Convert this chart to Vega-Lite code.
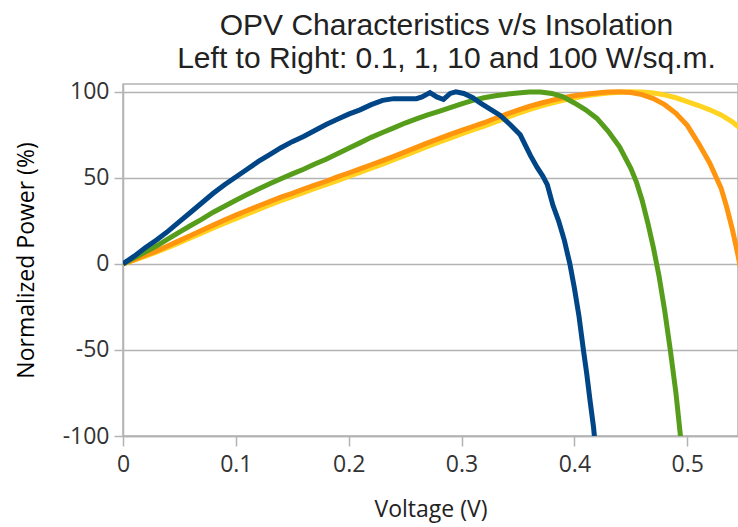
{
  "$schema": "https://vega.github.io/schema/vega-lite/v6.json",
  "width": 615,
  "height": 352,
  "autosize": {"type": "none"},
  "padding": {"left": 123, "top": 84, "right": 0, "bottom": 91},
  "background": "white",
  "title": {
    "text": ["OPV Characteristics v/s Insolation", "Left to Right: 0.1, 1, 10 and 100 W/sq.m."],
    "font": "Liberation Sans",
    "fontSize": 30,
    "fontWeight": "normal",
    "color": "#222222",
    "anchor": "middle",
    "dx": 16,
    "offset": 7,
    "lineHeight": 33
  },
  "config": {
    "view": {"stroke": "#b3b3b3", "strokeWidth": 1.5}
  },
  "datasets": {
    "yellow": [
      {"v": 0, "p": 0}, {"v": 0.01, "p": 2.2}, {"v": 0.02, "p": 4.5}, {"v": 0.03, "p": 7}, {"v": 0.04, "p": 9.5},
      {"v": 0.05, "p": 12.3}, {"v": 0.06, "p": 15.2}, {"v": 0.07, "p": 18}, {"v": 0.08, "p": 20.8}, {"v": 0.09, "p": 23.6},
      {"v": 0.1, "p": 26.3}, {"v": 0.11, "p": 29}, {"v": 0.12, "p": 31.6}, {"v": 0.13, "p": 34.2}, {"v": 0.14, "p": 36.7},
      {"v": 0.15, "p": 39}, {"v": 0.16, "p": 41.4}, {"v": 0.17, "p": 43.8}, {"v": 0.18, "p": 46}, {"v": 0.19, "p": 48.4},
      {"v": 0.2, "p": 50.8}, {"v": 0.21, "p": 53.2}, {"v": 0.22, "p": 55.6}, {"v": 0.23, "p": 58}, {"v": 0.24, "p": 60.5},
      {"v": 0.25, "p": 63}, {"v": 0.26, "p": 65.6}, {"v": 0.27, "p": 68.2}, {"v": 0.28, "p": 70.7}, {"v": 0.29, "p": 73.1},
      {"v": 0.3, "p": 75.5}, {"v": 0.31, "p": 77.8}, {"v": 0.32, "p": 80}, {"v": 0.33, "p": 82.5}, {"v": 0.34, "p": 85},
      {"v": 0.35, "p": 87.4}, {"v": 0.36, "p": 89.6}, {"v": 0.37, "p": 91.6}, {"v": 0.38, "p": 93.4}, {"v": 0.39, "p": 95},
      {"v": 0.4, "p": 96.4}, {"v": 0.41, "p": 97.6}, {"v": 0.42, "p": 98.5}, {"v": 0.43, "p": 99.2}, {"v": 0.44, "p": 99.7},
      {"v": 0.45, "p": 100}, {"v": 0.46, "p": 99.9}, {"v": 0.47, "p": 99.3}, {"v": 0.48, "p": 98.2}, {"v": 0.49, "p": 96.5},
      {"v": 0.5, "p": 94.3}, {"v": 0.51, "p": 92}, {"v": 0.52, "p": 89.5}, {"v": 0.53, "p": 86.5}, {"v": 0.54, "p": 82.5},
      {"v": 0.55, "p": 77}
    ],
    "orange": [
      {"v": 0, "p": 0}, {"v": 0.01, "p": 2.5}, {"v": 0.02, "p": 5}, {"v": 0.03, "p": 7.5}, {"v": 0.04, "p": 10.5},
      {"v": 0.05, "p": 13.5}, {"v": 0.06, "p": 16.5}, {"v": 0.07, "p": 19.5}, {"v": 0.08, "p": 22.5}, {"v": 0.09, "p": 25.5},
      {"v": 0.1, "p": 28.3}, {"v": 0.11, "p": 31}, {"v": 0.12, "p": 33.6}, {"v": 0.13, "p": 36.2}, {"v": 0.14, "p": 38.8},
      {"v": 0.15, "p": 41}, {"v": 0.16, "p": 43.4}, {"v": 0.17, "p": 45.8}, {"v": 0.18, "p": 48}, {"v": 0.19, "p": 50.5},
      {"v": 0.2, "p": 52.8}, {"v": 0.21, "p": 55.2}, {"v": 0.22, "p": 57.6}, {"v": 0.23, "p": 60}, {"v": 0.24, "p": 62.5},
      {"v": 0.25, "p": 65.1}, {"v": 0.26, "p": 67.7}, {"v": 0.27, "p": 70.3}, {"v": 0.28, "p": 72.8}, {"v": 0.29, "p": 75.2},
      {"v": 0.3, "p": 77.5}, {"v": 0.31, "p": 79.8}, {"v": 0.32, "p": 82}, {"v": 0.33, "p": 84.6}, {"v": 0.34, "p": 87},
      {"v": 0.35, "p": 89.3}, {"v": 0.36, "p": 91.5}, {"v": 0.37, "p": 93.3}, {"v": 0.38, "p": 95}, {"v": 0.39, "p": 96.5},
      {"v": 0.4, "p": 97.7}, {"v": 0.41, "p": 98.6}, {"v": 0.42, "p": 99.3}, {"v": 0.43, "p": 99.8}, {"v": 0.44, "p": 100},
      {"v": 0.45, "p": 99.6}, {"v": 0.46, "p": 98.3}, {"v": 0.47, "p": 96}, {"v": 0.48, "p": 92.5}, {"v": 0.49, "p": 87.5},
      {"v": 0.5, "p": 80.5}, {"v": 0.51, "p": 70}, {"v": 0.52, "p": 58.5}, {"v": 0.53, "p": 44}, {"v": 0.535, "p": 33},
      {"v": 0.54, "p": 20}, {"v": 0.545, "p": 5}, {"v": 0.55, "p": -12}
    ],
    "green": [
      {"v": 0, "p": 0}, {"v": 0.01, "p": 3.5}, {"v": 0.02, "p": 7}, {"v": 0.03, "p": 10.5}, {"v": 0.04, "p": 14.5},
      {"v": 0.05, "p": 18.5}, {"v": 0.06, "p": 22.3}, {"v": 0.07, "p": 26}, {"v": 0.08, "p": 30}, {"v": 0.09, "p": 33.5},
      {"v": 0.1, "p": 37}, {"v": 0.11, "p": 40.3}, {"v": 0.12, "p": 43.5}, {"v": 0.13, "p": 46.5}, {"v": 0.14, "p": 49.5},
      {"v": 0.15, "p": 52.3}, {"v": 0.16, "p": 55}, {"v": 0.17, "p": 58}, {"v": 0.18, "p": 60.8}, {"v": 0.19, "p": 64},
      {"v": 0.2, "p": 67.2}, {"v": 0.21, "p": 70.3}, {"v": 0.22, "p": 73.5}, {"v": 0.23, "p": 76.3}, {"v": 0.24, "p": 79},
      {"v": 0.25, "p": 81.8}, {"v": 0.26, "p": 84.2}, {"v": 0.27, "p": 86.5}, {"v": 0.28, "p": 88.6}, {"v": 0.29, "p": 90.8},
      {"v": 0.3, "p": 93}, {"v": 0.31, "p": 95}, {"v": 0.32, "p": 96.5}, {"v": 0.33, "p": 97.7}, {"v": 0.34, "p": 98.6},
      {"v": 0.35, "p": 99.3}, {"v": 0.36, "p": 99.8}, {"v": 0.37, "p": 99.8}, {"v": 0.38, "p": 99}, {"v": 0.39, "p": 97},
      {"v": 0.4, "p": 93.5}, {"v": 0.41, "p": 89.5}, {"v": 0.42, "p": 84.5}, {"v": 0.43, "p": 77}, {"v": 0.44, "p": 68},
      {"v": 0.45, "p": 55.5}, {"v": 0.455, "p": 47.5}, {"v": 0.46, "p": 37}, {"v": 0.465, "p": 24}, {"v": 0.47, "p": 9.5},
      {"v": 0.475, "p": -7}, {"v": 0.48, "p": -27}, {"v": 0.485, "p": -50}, {"v": 0.49, "p": -75}, {"v": 0.494, "p": -100},
      {"v": 0.495, "p": -106}
    ],
    "blue": [
      {"v": 0, "p": 0}, {"v": 0.01, "p": 4.5}, {"v": 0.02, "p": 9.5}, {"v": 0.03, "p": 14}, {"v": 0.04, "p": 19},
      {"v": 0.05, "p": 24.5}, {"v": 0.06, "p": 30}, {"v": 0.07, "p": 35.5}, {"v": 0.08, "p": 41}, {"v": 0.09, "p": 46},
      {"v": 0.1, "p": 50.5}, {"v": 0.11, "p": 55}, {"v": 0.12, "p": 59.5}, {"v": 0.13, "p": 63.5}, {"v": 0.14, "p": 67.5},
      {"v": 0.15, "p": 71}, {"v": 0.16, "p": 74}, {"v": 0.17, "p": 77.5}, {"v": 0.18, "p": 81}, {"v": 0.19, "p": 84},
      {"v": 0.2, "p": 87}, {"v": 0.21, "p": 89.5}, {"v": 0.22, "p": 92.5}, {"v": 0.23, "p": 95}, {"v": 0.24, "p": 96},
      {"v": 0.25, "p": 96}, {"v": 0.26, "p": 96}, {"v": 0.265, "p": 97}, {"v": 0.272, "p": 99.5}, {"v": 0.278, "p": 97},
      {"v": 0.284, "p": 95.5}, {"v": 0.29, "p": 99}, {"v": 0.295, "p": 100}, {"v": 0.302, "p": 99}, {"v": 0.31, "p": 96.5},
      {"v": 0.3165, "p": 93.5}, {"v": 0.325, "p": 90}, {"v": 0.334, "p": 86.4}, {"v": 0.343, "p": 81}, {"v": 0.352, "p": 75},
      {"v": 0.361, "p": 63}, {"v": 0.367, "p": 56}, {"v": 0.372, "p": 51}, {"v": 0.376, "p": 46}, {"v": 0.381, "p": 34},
      {"v": 0.386, "p": 25}, {"v": 0.391, "p": 14}, {"v": 0.396, "p": 0}, {"v": 0.4, "p": -14}, {"v": 0.404, "p": -30},
      {"v": 0.408, "p": -50}, {"v": 0.411, "p": -64}, {"v": 0.414, "p": -80}, {"v": 0.417, "p": -95}, {"v": 0.418, "p": -102}
    ]
  },
  "encoding": {
    "x": {
      "field": "v",
      "type": "quantitative",
      "scale": {"domain": [0, 0.545], "nice": false, "zero": false},
      "axis": {
        "title": "Voltage (V)",
        "values": [0, 0.1, 0.2, 0.3, 0.4, 0.5],
        "format": ".1~f",
        "grid": false,
        "domainColor": "#b3b3b3",
        "domainWidth": 1.5,
        "tickColor": "#b3b3b3",
        "tickWidth": 1.5,
        "tickSize": 10,
        "labelFont": "Open Sans",
        "labelFontSize": 23,
        "labelColor": "#333333",
        "labelPadding": 7,
        "labelFlush": false,
        "titleFont": "Open Sans",
        "titleFontSize": 23,
        "titleFontWeight": "normal",
        "titleColor": "#222222",
        "titlePadding": 22
      }
    },
    "y": {
      "field": "p",
      "type": "quantitative",
      "scale": {"domain": [-100, 104.5], "nice": false, "zero": false},
      "axis": {
        "title": "Normalized Power (%)",
        "values": [-100, -50, 0, 50, 100],
        "labelExpr": "datum.value + ''",
        "grid": true,
        "gridColor": "#b3b3b3",
        "gridWidth": 1.5,
        "domainColor": "#b3b3b3",
        "domainWidth": 1.5,
        "tickColor": "#b3b3b3",
        "tickWidth": 1.5,
        "tickSize": 9,
        "labelFont": "Open Sans",
        "labelFontSize": 23,
        "labelColor": "#333333",
        "labelPadding": 5,
        "labelFlush": false,
        "titleFont": "Open Sans",
        "titleFontSize": 23,
        "titleFontWeight": "normal",
        "titleColor": "#000000",
        "titlePadding": 24
      }
    }
  },
  "layer": [
    {"data": {"name": "yellow"}, "mark": {"type": "line", "color": "#ffd320", "strokeWidth": 5, "clip": true}},
    {"data": {"name": "orange"}, "mark": {"type": "line", "color": "#ff950e", "strokeWidth": 5, "clip": true}},
    {"data": {"name": "green"}, "mark": {"type": "line", "color": "#579d1c", "strokeWidth": 5, "clip": true}},
    {"data": {"name": "blue"}, "mark": {"type": "line", "color": "#004586", "strokeWidth": 5, "clip": true}}
  ]
}
